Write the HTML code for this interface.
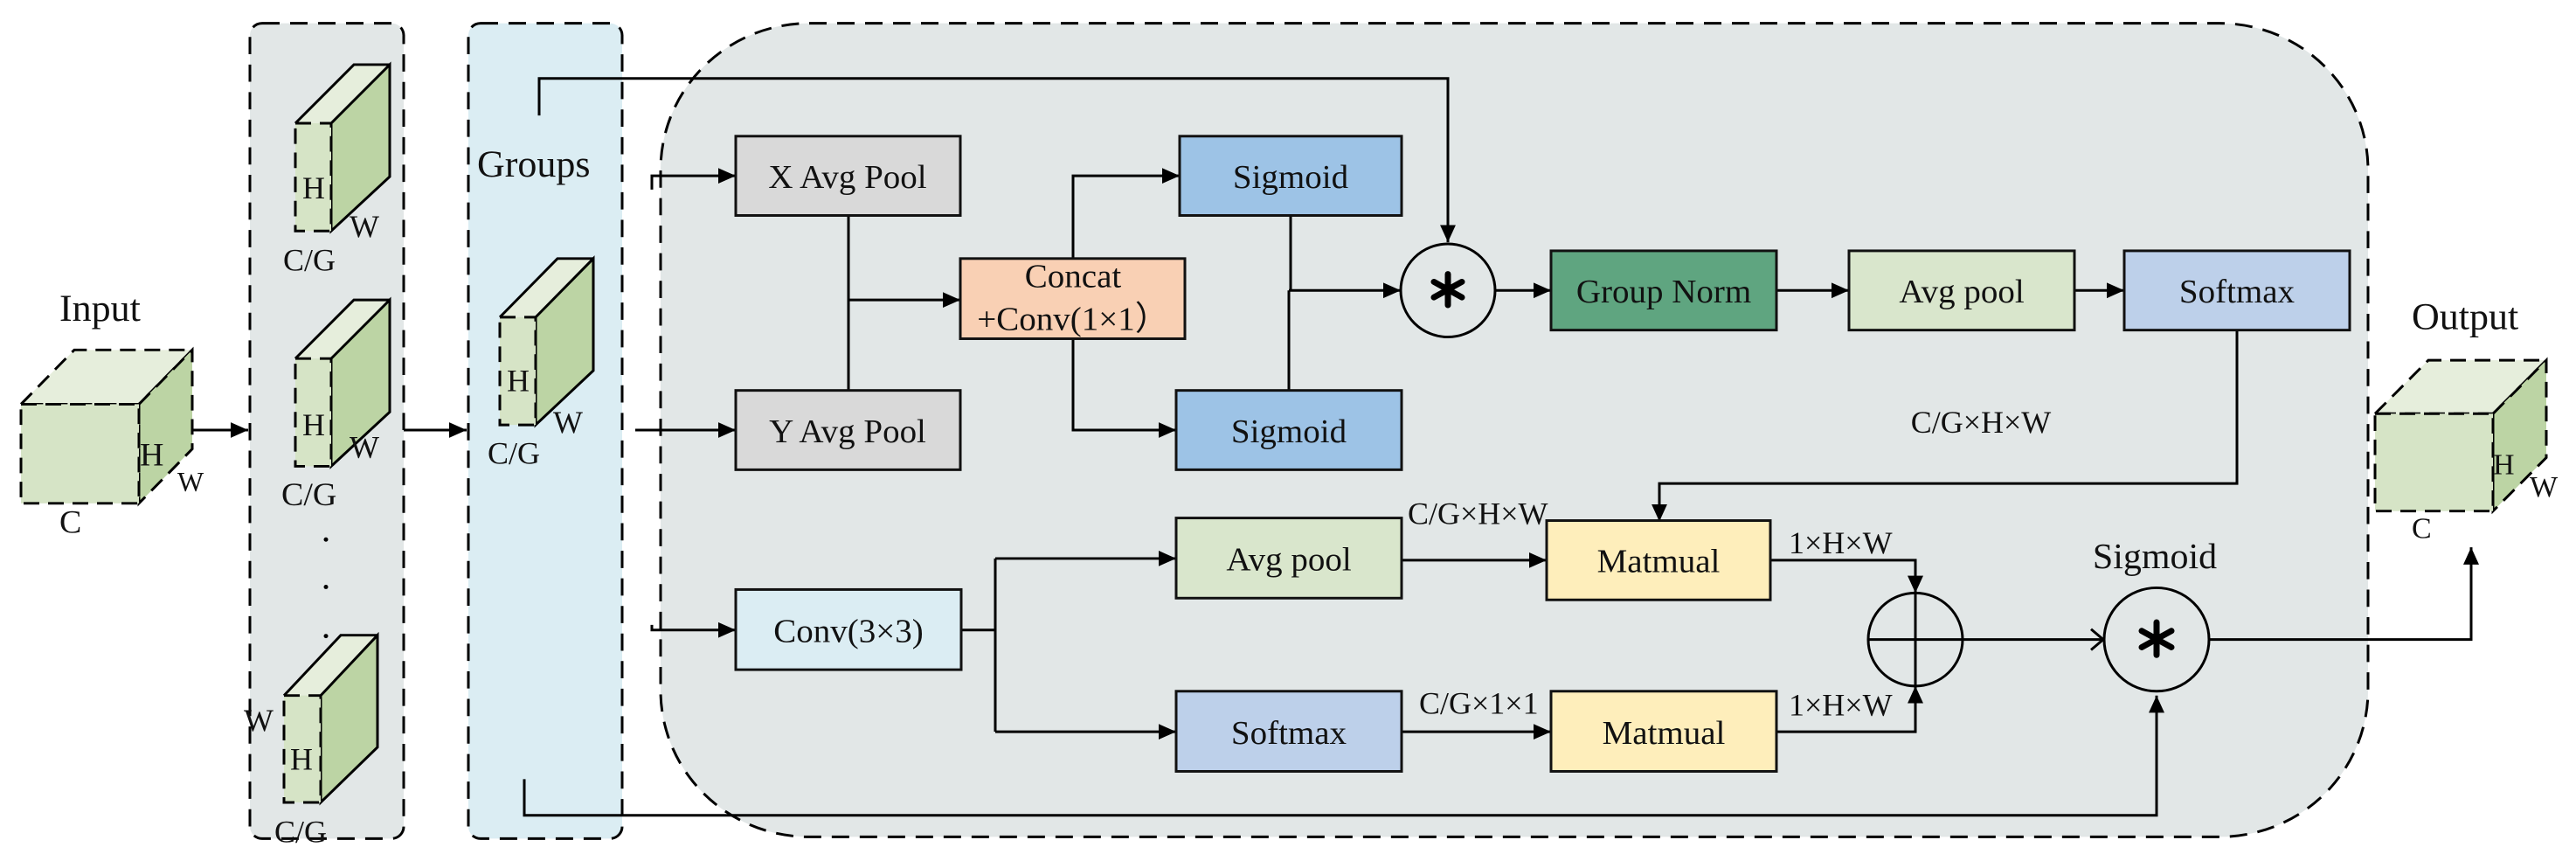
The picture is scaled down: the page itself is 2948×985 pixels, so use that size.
<!DOCTYPE html>
<html><head><meta charset="utf-8"><style>
html,body{margin:0;padding:0;background:#fff;}
svg{display:block;}
</style></head><body>
<svg width="2948" height="985" viewBox="0 0 2948 985" xmlns="http://www.w3.org/2000/svg" font-family="'Liberation Serif', 'DejaVu Serif', serif">
<defs>
<marker id="a" viewBox="0 0 20 20" refX="20" refY="10" markerWidth="20" markerHeight="20" markerUnits="userSpaceOnUse" orient="auto"><path d="M0,1 L20,10 L0,19 z" fill="#000"/></marker>
</defs>
<g transform="scale(1,0.986)">
<rect x="286" y="27" width="176" height="946" rx="14" fill="#e2e7e7" stroke="#000" stroke-width="3" stroke-dasharray="20 12"/>
<rect x="536" y="27" width="176" height="946" rx="14" fill="#dbedf3" stroke="#000" stroke-width="3" stroke-dasharray="20 12"/>
<rect x="756" y="27" width="1954" height="944" rx="170" fill="#e2e7e7" stroke="#000" stroke-width="3" stroke-dasharray="20 12"/>

<g stroke="#000" stroke-width="3" stroke-dasharray="18 10">
 <polygon points="24,469 85,406 220,406 159,469" fill="#e6eedc"/>
 <polygon points="159,469 220,406 220,521 159,584" fill="#bcd4a4"/>
 <rect x="24" y="469" width="135" height="115" fill="#d6e4c6"/>
 <polygon points="2718,480 2779,418 2914,418 2853,480" fill="#e6eedc"/>
 <polygon points="2853,480 2914,418 2914,531 2853,593" fill="#bcd4a4"/>
 <rect x="2718" y="480" width="135" height="113" fill="#d6e4c6"/>
</g>
<g stroke="#000" stroke-width="3">
 <polygon points="338,143 405,75 446,75 379,143" fill="#e6eedc" stroke="none"/>
 <polygon points="379,143 446,75 446,205 379,268" fill="#bcd4a4"/>
 <rect x="338" y="143" width="41" height="125" fill="#d6e4c6" stroke-dasharray="18 10"/>
 <path d="M338,143 L405,75 L446,75" fill="none"/>
 <polygon points="338,416 405,348 446,348 379,416" fill="#e6eedc" stroke="none"/>
 <polygon points="379,416 446,348 446,478 379,541" fill="#bcd4a4"/>
 <rect x="338" y="416" width="41" height="125" fill="#d6e4c6" stroke-dasharray="18 10"/>
 <path d="M338,416 L405,348 L446,348" fill="none"/>
 <polygon points="325,807 390,737 432,737 367,807" fill="#e6eedc" stroke="none"/>
 <polygon points="367,807 432,737 432,867 367,931" fill="#bcd4a4"/>
 <rect x="325" y="807" width="42" height="124" fill="#d6e4c6" stroke-dasharray="18 10"/>
 <path d="M325,807 L390,737 L432,737" fill="none"/>
 <polygon points="572,368 638,300 679,300 613,368" fill="#e6eedc" stroke="none"/>
 <polygon points="613,368 679,300 679,430 613,493" fill="#bcd4a4"/>
 <rect x="572" y="368" width="41" height="125" fill="#d6e4c6" stroke-dasharray="18 10"/>
 <path d="M572,368 L638,300 L679,300" fill="none"/>
</g>

<g font-size="38" fill="#111">
<text x="68" y="372" font-size="44">Input</text>
<text x="2760" y="382" font-size="44">Output</text>
<text x="68" y="618">C</text>
<text x="160" y="540">H</text>
<text x="203" y="570" font-size="32">W</text>
<text x="2760" y="624" font-size="34">C</text>
<text x="2853" y="550" font-size="34">H</text>
<text x="2895" y="576" font-size="34">W</text>
<text x="346" y="230" font-size="36">H</text>
<text x="400" y="275" font-size="36">W</text>
<text x="324" y="314" font-size="36">C/G</text>
<text x="346" y="505" font-size="36">H</text>
<text x="400" y="531" font-size="36">W</text>
<text x="322" y="586" font-size="38">C/G</text>
<text x="279" y="848" font-size="36">W</text>
<text x="332" y="893" font-size="36">H</text>
<text x="314" y="977" font-size="36">C/G</text>
<text x="546" y="205" font-size="44">Groups</text>
<text x="580" y="454" font-size="36">H</text>
<text x="633" y="502" font-size="36">W</text>
<text x="558" y="538" font-size="36">C/G</text>
</g>
<g fill="#000"><circle cx="373" cy="626" r="2.5"/><circle cx="373" cy="681" r="2.5"/><circle cx="373" cy="738" r="2.5"/></g>

<g stroke="#000" stroke-width="3" fill="none">
 <line x1="220" y1="499" x2="284" y2="499" marker-end="url(#a)"/>
 <line x1="462" y1="499" x2="534" y2="499" marker-end="url(#a)"/>
 <path d="M617,134 L617,91 L1657,91 L1657,281" marker-end="url(#a)"/>
 <path d="M600,904 L600,946 L2468,946 L2468,807" marker-end="url(#a)"/>
 <path d="M746,220 L746,204 L842,204" marker-end="url(#a)"/>
 <line x1="727" y1="499" x2="842" y2="499" marker-end="url(#a)"/>
 <path d="M746,725 L746,731 L842,731" marker-end="url(#a)"/>
 <line x1="971" y1="250" x2="971" y2="453"/>
 <line x1="971" y1="348" x2="1099" y2="348" marker-end="url(#a)"/>
 <path d="M1228,300 L1228,204 L1350,204" marker-end="url(#a)"/>
 <path d="M1228,393 L1228,499 L1346,499" marker-end="url(#a)"/>
 <line x1="1477" y1="250" x2="1477" y2="337"/>
 <line x1="1475" y1="453" x2="1475" y2="337"/>
 <line x1="1475" y1="337" x2="1603" y2="337" marker-end="url(#a)"/>
 <line x1="1711" y1="337" x2="1775" y2="337" marker-end="url(#a)"/>
 <line x1="2033" y1="337" x2="2116" y2="337" marker-end="url(#a)"/>
 <line x1="2374" y1="337" x2="2431" y2="337" marker-end="url(#a)"/>
 <path d="M2560,383 L2560,561 L1899,561 L1899,605" marker-end="url(#a)"/>
 <path d="M1100,731 L1139,731"/>
 <path d="M1139,648 L1139,849"/>
 <line x1="1139" y1="648" x2="1346" y2="648" marker-end="url(#a)"/>
 <line x1="1139" y1="849" x2="1346" y2="849" marker-end="url(#a)"/>
 <line x1="1604" y1="650" x2="1770" y2="650" marker-end="url(#a)"/>
 <line x1="1604" y1="849" x2="1775" y2="849" marker-end="url(#a)"/>
 <path d="M2026,650 L2192,650 L2192,688" marker-end="url(#a)"/>
 <path d="M2033,849 L2192,849 L2192,796" marker-end="url(#a)"/>
 <line x1="2192" y1="688" x2="2192" y2="796"/>
 <line x1="2138" y1="742" x2="2407" y2="742"/>
 <path d="M2393,730 L2407,742 L2393,754"/>
 <path d="M2528,742 L2828,742 L2828,635" marker-end="url(#a)"/>
 <circle cx="1657" cy="337" r="54"/>
 <circle cx="2192" cy="742" r="54"/>
 <circle cx="2468" cy="742" r="60"/>
</g>
<g stroke="#000" stroke-width="7" stroke-linecap="round">
 <line x1="1657" y1="318" x2="1657" y2="354"/>
 <line x1="1641" y1="327" x2="1673" y2="345"/>
 <line x1="1641" y1="345" x2="1673" y2="327"/>
 <line x1="2468" y1="722" x2="2468" y2="760"/>
 <line x1="2451" y1="732" x2="2485" y2="751"/>
 <line x1="2451" y1="751" x2="2485" y2="732"/>
</g>

<g stroke="#111" stroke-width="3">
 <rect x="842" y="158" width="257" height="92" fill="#d9d9d9"/>
 <rect x="842" y="453" width="257" height="92" fill="#d9d9d9"/>
 <rect x="842" y="684" width="258" height="93" fill="#dbedf3"/>
 <rect x="1099" y="300" width="257" height="93" fill="#f9d0b4"/>
 <rect x="1350" y="158" width="254" height="92" fill="#9dc3e6"/>
 <rect x="1346" y="453" width="258" height="92" fill="#9dc3e6"/>
 <rect x="1775" y="291" width="258" height="92" fill="#5fa580"/>
 <rect x="2116" y="291" width="258" height="92" fill="#d9e6cc"/>
 <rect x="2431" y="291" width="258" height="92" fill="#bdd0ea"/>
 <rect x="1346" y="601" width="258" height="93" fill="#d9e6cc"/>
 <rect x="1346" y="802" width="258" height="93" fill="#bdd0ea"/>
 <rect x="1770" y="604" width="256" height="92" fill="#feeebb"/>
 <rect x="1775" y="802" width="258" height="93" fill="#feeebb"/>
</g>
<g font-size="39" text-anchor="middle" fill="#111">
 <text x="970" y="218">X Avg Pool</text>
 <text x="970" y="513">Y Avg Pool</text>
 <text x="971" y="745">Conv(3×3)</text>
 <text x="1228" y="333">Concat</text>
 <text x="1228" y="383">+Conv(1×1）</text>
 <text x="1477" y="218">Sigmoid</text>
 <text x="1475" y="513">Sigmoid</text>
 <text x="1904" y="351">Group Norm</text>
 <text x="2245" y="351">Avg pool</text>
 <text x="2560" y="351">Softmax</text>
 <text x="1475" y="662">Avg pool</text>
 <text x="1475" y="863">Softmax</text>
 <text x="1898" y="664">Matmual</text>
 <text x="1904" y="863">Matmual</text>
 <text x="2267" y="502" font-size="36">C/G×H×W</text>
 <text x="2466" y="659" font-size="42">Sigmoid</text>
</g>
<g font-size="36" fill="#111">
 <text x="1611" y="608">C/G×H×W</text>
 <text x="1624" y="828">C/G×1×1</text>
 <text x="2047" y="642">1×H×W</text>
 <text x="2047" y="830">1×H×W</text>
</g>
</g>
</svg>
</body></html>
